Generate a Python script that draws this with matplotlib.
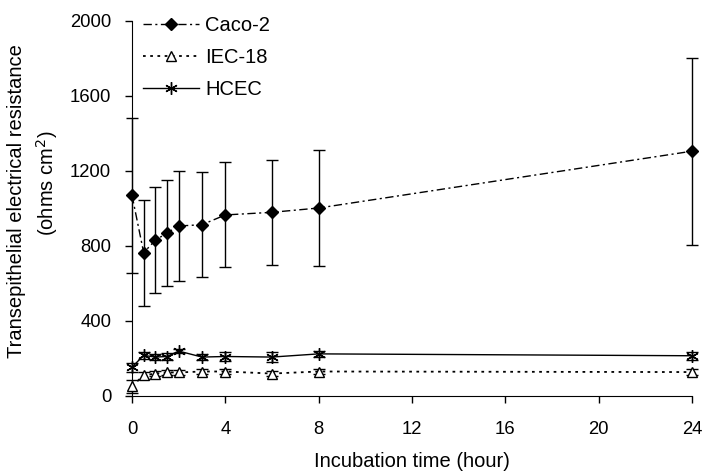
import numpy as np
import matplotlib.pyplot as plt

plt.rcParams['font.family'] = ['Liberation Sans', 'DejaVu Sans']

hours = [0, 0.5, 1, 1.5, 2, 3, 4, 6, 8, 24]

caco2 = [1068, 762, 828, 867, 904, 911, 963, 977, 1000, 1303]
caco2_err = [413, 283, 283, 283, 291, 280, 280, 280, 309, 498]

iec18 = [50, 107, 117, 123, 123, 128, 128, 117, 128, 125]
iec18_err = [35, 18, 15, 15, 15, 15, 15, 15, 15, 18]

hcec = [151, 214, 205, 208, 237, 205, 208, 205, 222, 212]
hcec_err = [25, 20, 18, 18, 12, 18, 25, 25, 18, 22]

fig = plt.figure(figsize=(7.05, 4.74), dpi=100)
ax = fig.add_axes([132 / 705, 1 - 395.5 / 474, 560 / 705, 375 / 474])

for y, e in [(caco2, caco2_err), (iec18, iec18_err), (hcec, hcec_err)]:
    ax.errorbar(hours, y, yerr=e, fmt='none', ecolor='black',
                elinewidth=1, capsize=4, capthick=1, clip_on=False)

ax.plot(hours, caco2, color='black', lw=1, dashes=[6, 2.5, 1.5, 2.5],
        marker='D', markersize=6.5, markerfacecolor='black', label='Caco-2',
        clip_on=False, zorder=3)
ax.plot(hours, iec18, color='black', lw=1.3, linestyle=(0, (1.5, 2.5)),
        marker='^', markersize=7.5, markerfacecolor='white',
        markeredgecolor='black', label='IEC-18', clip_on=False, zorder=3)
ax.plot(hours, hcec, color='black', lw=1, linestyle='-',
        marker=(6, 2, 0), markersize=9, markeredgewidth=1, label='HCEC',
        clip_on=False, zorder=3)

ax.set_xlim(0, 24)
ax.set_ylim(0, 2000)
ax.set_xticks(np.arange(0, 25, 4))
ax.set_yticks(np.arange(0, 2001, 400))
ax.spines['top'].set_visible(False)
ax.spines['right'].set_visible(False)
ax.tick_params(direction='out', length=5, width=1, labelsize=13.3)
ax.tick_params(axis='x', pad=13)
ax.tick_params(axis='y', pad=10)

ax.set_xlabel('Incubation time (hour)', fontsize=14.5, labelpad=10.5)
fig.text(17 / 705, 1 - 201.5 / 474, 'Transepithelial electrical resistance',
         rotation=90, ha='center', va='center', fontsize=14.5)
fig.text(47 / 705, 1 - 183.5 / 474, '(ohms cm$^2$)',
         rotation=90, ha='center', va='center', fontsize=14.5)

ax.legend(loc='upper left', bbox_to_anchor=(142.7 / 705, 1 - 16 / 474),
          bbox_transform=fig.transFigure, frameon=False, fontsize=14.5,
          handlelength=2.8, labelspacing=0.65, handletextpad=0.3,
          borderpad=0, borderaxespad=0)

fig.savefig('out.png', dpi=100)
